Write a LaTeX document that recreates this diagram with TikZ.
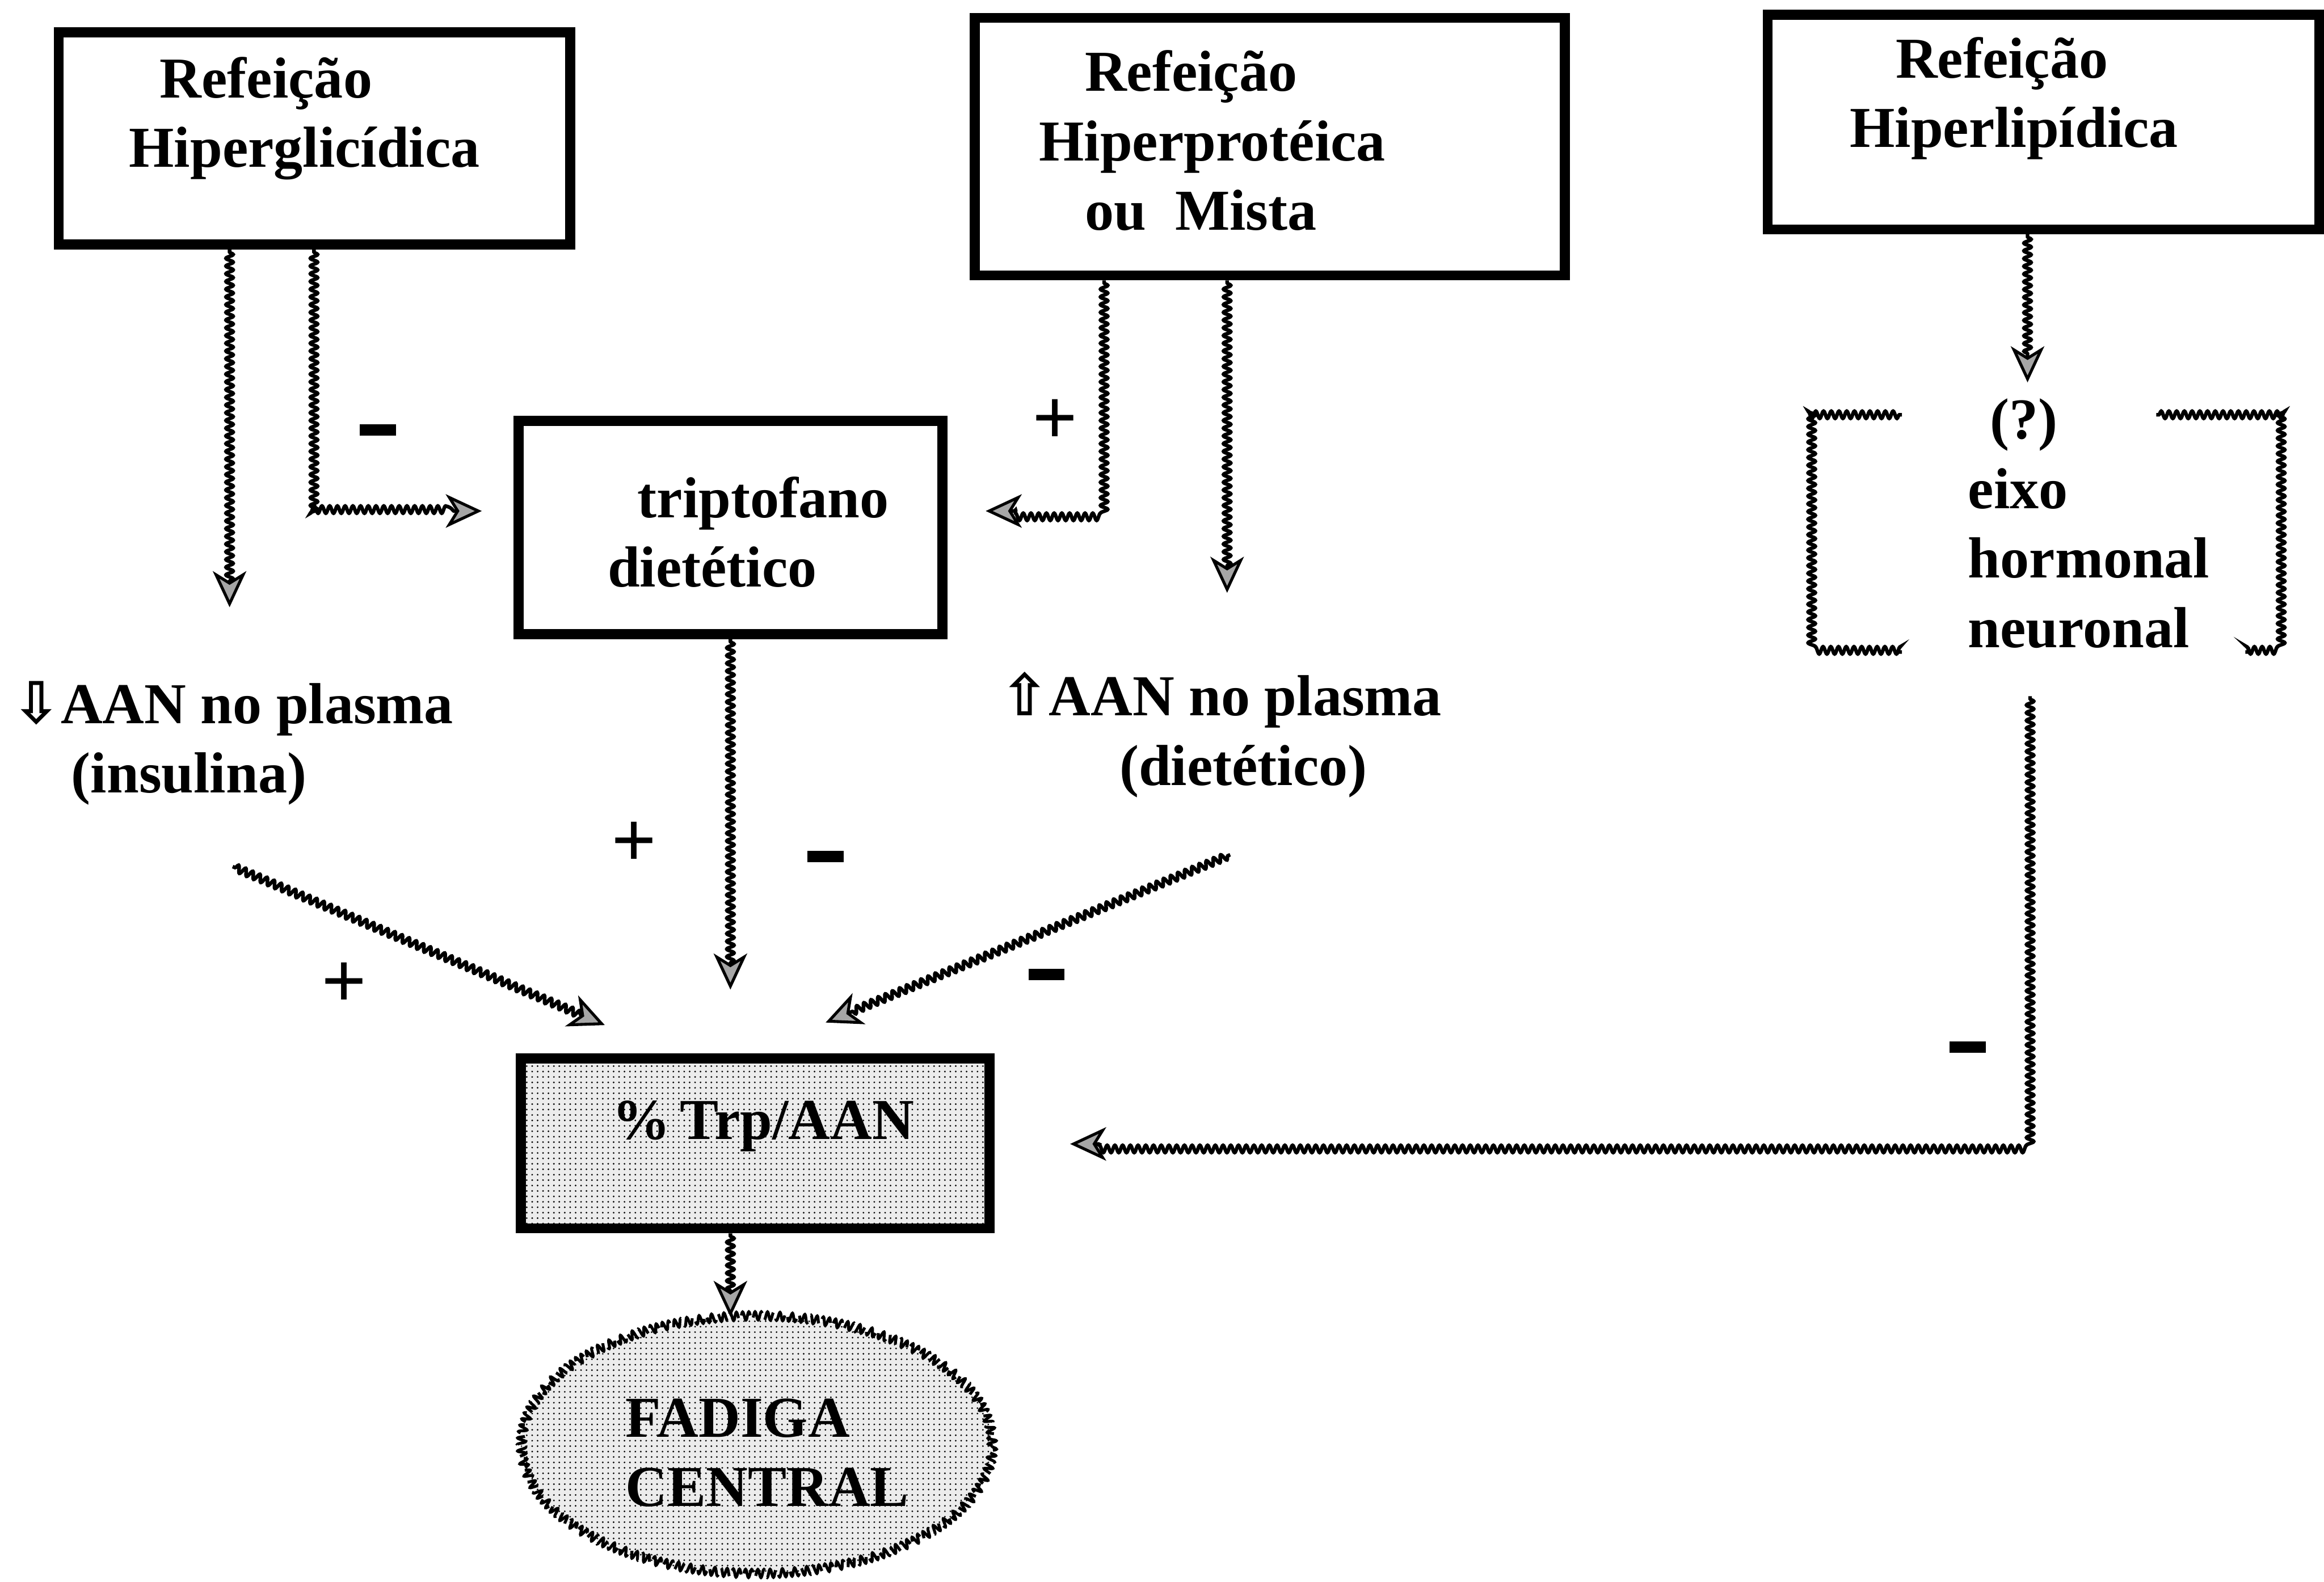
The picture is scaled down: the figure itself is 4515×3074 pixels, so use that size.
\documentclass[tikz,border=0pt]{standalone}
\usepackage{fontspec}
\setmainfont{Liberation Serif}
\newfontfamily\arrowfont{DejaVu Sans}
\usetikzlibrary{arrows.meta, decorations.pathmorphing, patterns, shapes.geometric, positioning}

\begin{document}
\begin{tikzpicture}[x=0.01cm, y=-0.01cm,
    every node/.style={font=\fontsize{32}{38.4}\selectfont\bfseries, inner sep=0pt},
    meal/.style={draw, line width=5.5pt},
    txt/.style={align=left, anchor=west},
    sign/.style={minimum width=0.7cm},
    plus/.style={sign, font=\fontsize{44}{44}\selectfont\bfseries},
    wavy/.style={decorate, decoration={snake, amplitude=0.7mm, segment length=1.5mm, pre length=0.5mm, post length=5mm}, line width=2pt},
    bracketline/.style={wavy, decoration={post length=0mm}},
    wavyarrow/.style={wavy, -{Stealth[length=7mm, width=6.5mm, inset=2mm, line width=1.6pt, fill=gray!70]}}]
    \useasboundingbox (0,0) rectangle (4515,3074);

    \node[meal, minimum width=9.93cm, minimum height=4.12cm] (glic) at (611,269) {};
    \node[txt] (glict) at (250,230) {\hspace*{0.6cm}Refeição\\Hiperglicídica};
    \node[meal, minimum width=11.46cm, minimum height=5cm] (prot) at (2467,285) {};
    \node[txt] (prott) at (2018,273) {\hspace*{0.89cm}Refeição\\Hiperprotéica\\\hspace*{0.89cm}ou\ \ Mista};
    \node[meal, minimum width=10.71cm, minimum height=4.17cm] (lip) at (3970,237) {};
    \node[txt] (lipt) at (3593,191) {\hspace*{0.89cm}Refeição\\Hiperlipídica};
    \node[meal, minimum width=8.23cm, minimum height=4.14cm] (trip) at (1419,1025) {};
    \node[txt] (tript) at (1180,1034) {\hspace*{0.58cm}triptofano\\dietético};
    \node[meal, minimum width=9.1cm, minimum height=3.3cm, preaction={fill=gray!15}, pattern=dots] (ratio) at (1467,2222) {};
    \node (ratiot) at (1483,2188) {\%\,Trp/AAN};
    \node[ellipse, minimum width=9.15cm, minimum height=5cm, preaction={fill=gray!15}, pattern=dots] (fad) at (1470,2810) {};
    \draw[line width=1.6pt, dash pattern=on 5mm off 1.5mm, decorate, decoration={snake, amplitude=0.8mm, segment length=1.2mm}] (fad.center) ellipse [x radius=4.575cm, y radius=2.5cm];
    \node[txt] (fadt) at (1215,2823) {FADIGA\\CENTRAL};

    \node[txt] (hypo) at (23,1444) {{\arrowfont ⇩}AAN no plasma\\\hspace*{1.15cm}(insulina)};
    \node[txt] (hyper) at (1943,1428) {{\arrowfont ⇧}AAN no plasma\\\hspace*{2.31cm}(dietético)};
    \node[txt] (eixo) at (3823,1017) {\hspace*{0.43cm}(?)\\eixo\\hormonal\\neuronal};

    \draw[bracketline] (3695,806) -- (3518,806) -- (3518,1267) -- (3695,1267);
    \draw[bracketline] (4189,806) -- (4434,806) -- (4434,1267) -- (4362,1267);

    \node[sign] (m1) at (734,835) {\rule{0.7cm}{0.22cm}};
    \node[sign] (m2) at (1604,1664) {\rule{0.7cm}{0.22cm}};
    \node[sign] (m3) at (2033,1894) {\rule{0.7cm}{0.22cm}};
    \node[sign] (m4) at (3823,2035) {\rule{0.7cm}{0.22cm}};
    \node[plus] (p1) at (2050,820) {+};
    \node[plus] (p2) at (1232,1641) {+};
    \node[plus] (p3) at (668,1915) {+};

    \coordinate (a1) at (446,1180);
    \coordinate (a2s) at (610,0);
    \coordinate (a2) at (936,993);
    \coordinate (a3s) at (2145,0);
    \coordinate (a3) at (1915,993);
    \coordinate (a4) at (2384,1152);
    \coordinate (a5) at (3939,743);
    \coordinate (a6) at (1419,1923);
    \coordinate (a7s) at (452,1684);
    \coordinate (a7) at (1175,1992);
    \coordinate (a8s) at (2390,1661);
    \coordinate (a8) at (1604,1987);
    \coordinate (a9s) at (3944,1353);
    \coordinate (a9) at (2079,2223);

    \draw[wavyarrow] (glic.south -| a1) -- (a1);
    \draw[wavyarrow] (glic.south -| a2s) |- (a2);
    \draw[wavyarrow] (prot.south -| a3s) |- (a3);
    \draw[wavyarrow] (prot.south -| a4) -- (a4);
    \draw[wavyarrow] (lip.south -| a5) -- (a5);
    \draw[wavyarrow] (trip.south) -- (a6);
    \draw[wavyarrow] (a7s) -- (a7);
    \draw[wavyarrow] (a8s) -- (a8);
    \draw[wavyarrow] (a9s) |- (a9);
    \draw[wavyarrow] (ratio.south -| trip) -- (fad.north -| trip);
\end{tikzpicture}
\end{document}
